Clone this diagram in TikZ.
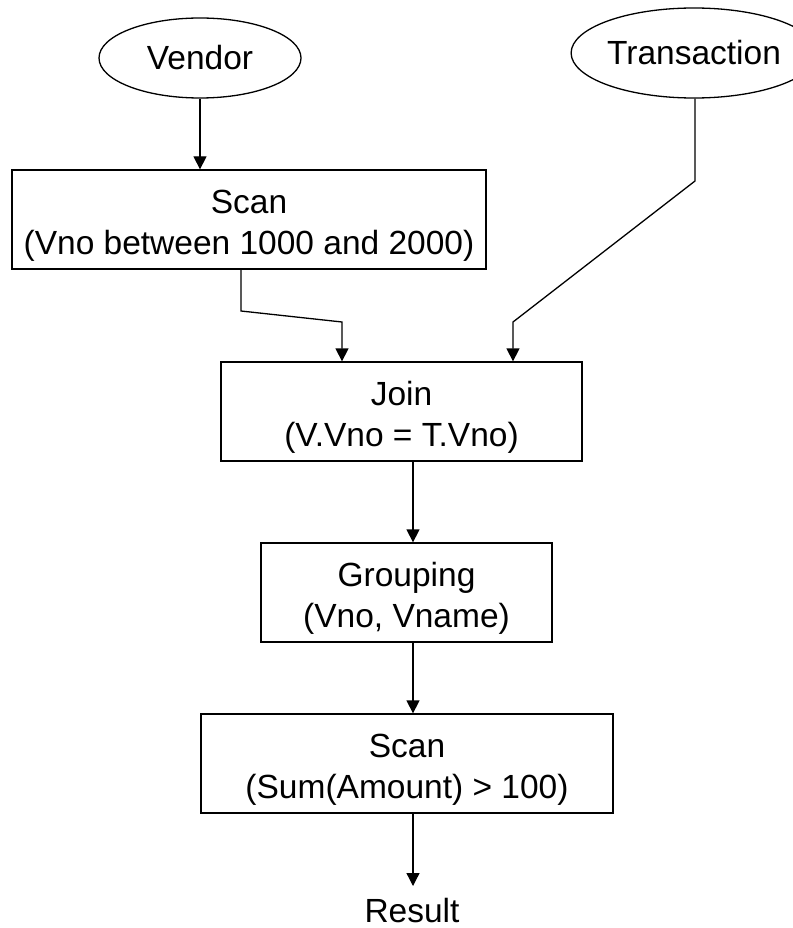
\documentclass[tikz,border=0pt]{standalone}
\usepackage{fontspec}
\setmainfont{Liberation Sans}
\usetikzlibrary{arrows.meta,shapes.geometric}
\newcommand{\opstrut}{\rule{0pt}{35pt}}

\begin{document}
\begin{tikzpicture}[x=1pt, y=-1pt, line width=1.3pt,
    font=\fontsize{33.5}{41}\selectfont,
    table/.style={ellipse, draw, inner sep=0pt},
    opbox/.style={rectangle, draw, inner sep=0pt, align=center, minimum height=99pt},
    arr/.style={-{Triangle[width=13pt, length=13pt]}}]
    \useasboundingbox (0,0) rectangle (792,928);

    \node [table, minimum width=202pt, minimum height=80pt] (vendor) at (200,58) {Vendor};
    \node [table, minimum width=240pt, minimum height=90pt] (trans) at (694,53) {Transaction};

    \node [opbox, minimum width=474pt] (scanv) at (249,219.5) {\opstrut Scan\\(Vno between 1000 and 2000)};
    \node [opbox, minimum width=361pt] (join) at (401.5,411.5) {\opstrut Join\\(V.Vno = T.Vno)};
    \node [opbox, minimum width=291pt] (group) at (406.5,592.5) {\opstrut Grouping\\(Vno, Vname)};
    \node [opbox, minimum width=412pt] (scans) at (407,763.5) {\opstrut Scan\\(Sum(Amount) > 100)};
    \node [inner sep=0pt, anchor=base] (result) at (412,922) {Result};

    \coordinate (b1) at (241,311);
    \coordinate (b2) at (342,322);
    \coordinate (t1) at (695,181);
    \coordinate (t2) at (513,322);
    \coordinate (spine) at (413,0);

    \draw [arr] (vendor.south) -- (vendor.south |- scanv.north);
    \draw [arr] (b1 |- scanv.south) -- (b1) -- (b2) -- (b2 |- join.north);
    \draw [arr] (t1 |- trans.south) -- (t1) -- (t2) -- (t2 |- join.north);
    \draw [arr] (spine |- join.south) -- (spine |- group.north);
    \draw [arr] (spine |- group.south) -- (spine |- scans.north);
    \draw [arr] (spine |- scans.south) -- (spine |- 0,886);
\end{tikzpicture}
\end{document}
